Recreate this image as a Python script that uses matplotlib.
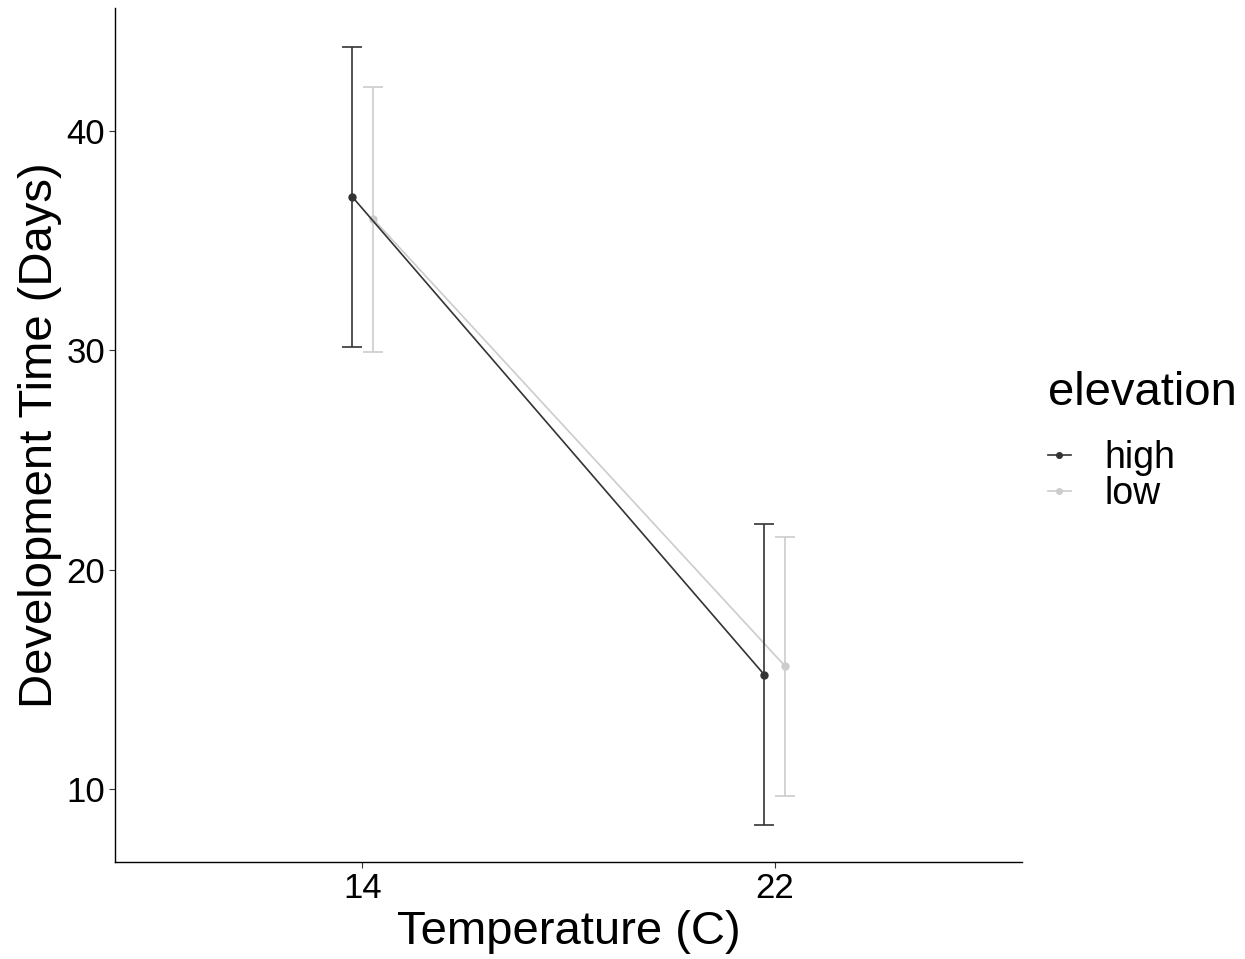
import matplotlib.pyplot as plt
from matplotlib.lines import Line2D

plt.rcParams['font.family'] = ['Liberation Sans', 'DejaVu Sans']

temps = ['14', '22']
groups = ['high', 'low']
colors = {'high': '#333333', 'low': '#cccccc'}

means = {'high': [37.0, 15.2], 'low': [36.0, 15.6]}
upper = {'high': [43.8, 22.1], 'low': [42.0, 21.5]}
lower = {'high': [30.15, 8.35], 'low': [29.9, 9.7]}

dodge = {'high': -0.025, 'low': 0.025}

fig = plt.figure(figsize=(12.45, 9.59), dpi=100)
ax = fig.add_axes([0.0924, 0.1011, 0.7286, 0.8906])

for g in groups:
    xs = [i + 1 + dodge[g] for i in range(len(temps))]
    m = means[g]
    err = [[m[i] - lower[g][i] for i in range(2)], [upper[g][i] - m[i] for i in range(2)]]
    ax.errorbar(xs, m, yerr=err, color=colors[g], lw=1.2, capsize=7.2,
                capthick=1.2, marker='o', ms=5, zorder=3 if g == 'high' else 2)

ax.set_xlim(0.4, 2.6)
ax.set_ylim(6.67, 45.6)
ax.set_xticks([1, 2])
ax.set_xticklabels(temps)
ax.set_yticks([10, 20, 30, 40])
ax.tick_params(labelsize=25, length=4, width=0.8, pad=3, colors='#333333', labelcolor='black')
for s in ['top', 'right']:
    ax.spines[s].set_visible(False)
for s in ['left', 'bottom']:
    ax.spines[s].set_linewidth(1.0)

ax.set_xlabel('Temperature (C)', fontsize=34, labelpad=4)
ax.set_ylabel('Development Time (Days)', fontsize=34, labelpad=3)

handles = [Line2D([0], [0], color=colors[g], lw=1.2, marker='o', ms=4) for g in groups]
leg = fig.legend(handles, groups, title='elevation', loc='upper left',
                 bbox_to_anchor=(0.8418, 0.613), frameon=False, fontsize=27,
                 title_fontsize=34, handlelength=0.6, handletextpad=0.9,
                 labelspacing=0.0, borderpad=0, borderaxespad=0)
leg._legend_box.align = 'left'
leg._legend_box.sep = 18

fig.savefig('out.png', dpi=100)
